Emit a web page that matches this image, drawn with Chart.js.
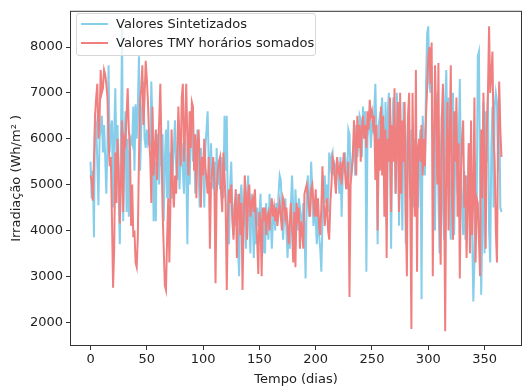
<!DOCTYPE html>
<html>
<head>
<meta charset="utf-8">
<script src="https://cdn.jsdelivr.net/npm/chart.js@4.4.1/dist/chart.umd.min.js"></script>
<style>
  html, body { margin: 0; padding: 0; background: #fff; }
  #wrap { position: relative; width: 526px; height: 387px; }
  #legend {
    position: absolute; left: 76px; top: 13px; width: 238px; height: 41px;
    border: 1px solid #d6d6d6; border-radius: 3px; background: rgba(255,255,255,0.8);
    font-family: "DejaVu Sans", sans-serif; font-size: 13px; color: #222;
  }
  .row { position: absolute; left: 0; height: 16px; line-height: 16px; white-space: nowrap; }
  .swatch { position: absolute; left: 4px; top: 7px; width: 27px; height: 2px; }
  .lbl { position: absolute; left: 39px; top: 0; }
</style>
</head>
<body>
<div id="wrap">
  <canvas id="chart" width="526" height="387"></canvas>
  <div id="legend">
    <div class="row" style="top:2px"><span class="swatch" style="background:#87CEEB"></span><span class="lbl">Valores Sintetizados</span></div>
    <div class="row" style="top:21px"><span class="swatch" style="background:#F08080"></span><span class="lbl">Valores TMY horários somados</span></div>
  </div>
</div>
<script>
// daily sums, days 0..365
const sintetizados = [
  5500, 4700, 5300, 3850, 6550, 6300, 5500, 4550, 6000, 6200,
  6500, 5700, 6300, 5600, 4800, 5800, 7600, 5700, 6200, 6400,
  4500, 6100, 7100, 5600, 6300, 4700, 3700, 6000, 8450, 4200,
  5900, 6600, 4400, 6000, 4300, 5800, 6000, 5900, 6700, 5300,
  6750, 6000, 6700, 7800, 5300, 6200, 6800, 7250, 6000, 5800,
  6200, 5900, 6000, 5800, 7250, 6300, 4200, 5500, 4200, 6100,
  5800, 5000, 6200, 5400, 6100, 4200, 5500, 6200, 4700, 6400,
  4600, 5700, 4700, 5300, 5800, 6400, 5400, 5100, 6400, 4900,
  5600, 5900, 5300, 4800, 6000, 5400, 3700, 5700, 5000, 6100,
  6500, 5500, 5900, 4800, 5600, 6200, 5200, 4500, 5800, 5300,
  5600, 4500, 5800, 6200, 6600, 5500, 5100, 5900, 5200, 4900,
  5500, 4100, 5800, 5000, 5400, 4900, 5600, 5200, 4700, 6500,
  5300, 6500, 4200, 3700, 5000, 5500, 4400, 3900, 4600, 4100,
  4800, 3600, 3000, 4700, 5000, 4400, 4100, 4900, 3600, 4500,
  5200, 4200, 3500, 4800, 4300, 3400, 4600, 3700, 4500, 4100,
  4300, 4800, 3800, 3500, 4500, 3500, 4600, 4100, 3800, 4800,
  4300, 3600, 4200, 4500, 4000, 4600, 4200, 4800, 5200, 5100,
  4400, 3800, 4300, 4700, 4000, 3400, 4100, 3600, 4600, 5200,
  4500, 3500, 4900, 4300, 4000, 4700, 4500, 4300, 3900, 4600,
  4100, 2950, 4700, 5200, 4300, 4700, 5500, 4800, 4100, 4500,
  4200, 3700, 4600, 3900, 3600, 3100, 4200, 4800, 5200, 4600,
  5000, 4400, 5700, 5400, 5600, 5700, 5200, 5400, 5300, 5600,
  5200, 4800, 5600, 4300, 5200, 5500, 5700, 5300, 4900, 6200,
  6100, 5100, 5300, 5700, 6000, 5200, 6300, 5600, 5900, 6500,
  6400, 5600, 6700, 6200, 6600, 3100, 6000, 6300, 6500, 5800,
  6300, 6200, 6600, 7200, 6000, 3700, 6300, 6500, 6400, 6900,
  6200, 4900, 6800, 4100, 6600, 7000, 5400, 3600, 6300, 6900,
  6100, 4800, 7000, 6500, 4100, 6800, 5200, 4000, 6800, 6300,
  3700, 5800, 6500, 5300, 4700, 6200, 5900, 4500, 6000, 5200,
  5600, 4500, 5800, 6200, 2500, 6500, 6000, 5200, 7200, 8300,
  8450, 7200, 7000, 7600, 6000, 6300, 4000, 6500, 7000, 4800,
  3500, 5500, 6500, 4600, 3800, 6800, 7500, 5800, 6900, 4400,
  3800, 5900, 7000, 3900, 5800, 6600, 4800, 5800, 7300, 5400,
  4600, 3900, 5300, 3800, 5200, 4700, 5900, 5400, 5100, 3900,
  2450, 3300, 5500, 4600, 7800, 7900, 5000, 2600, 4000, 6800,
  3500, 6600, 5500, 7000, 4000, 3300, 5800, 6700, 4500, 6700,
  7000, 6800, 5300, 6900, 4500, 4400
];

const tmySomados = [
  5200, 5100, 4650, 5500, 6500, 6900, 7200, 6000, 6400, 7500,
  7000, 7100, 7500, 7400, 7200, 6900, 6000, 5400, 5600, 4300,
  2750, 3600, 5700, 4600, 6000, 5300, 4150, 5000, 6400, 4400,
  6000, 5900, 6500, 7100, 6200, 5800, 4100, 5000, 3850, 4000,
  3300, 3200, 3850, 5600, 6800, 7100, 7600, 6300, 6900, 7700,
  7300, 6800, 6000, 5600, 4600, 6700, 5200, 5800, 6200, 5100,
  5800, 6400, 7200, 5800, 4400, 3600, 2800, 2700, 3800, 4700,
  3300, 4600, 6200, 5000, 4500, 5200, 4800, 5600, 6700, 6000,
  5400, 6900, 7200, 5500, 6200, 7200, 6000, 5200, 6600, 5800,
  6800, 6700, 5300, 6100, 4700, 5900, 6200, 5500, 4500, 5600,
  5200, 6000, 5400, 5100, 4800, 5600, 3600, 5000, 5300, 5600,
  5000, 2850, 4800, 5300, 5500, 5600, 4800, 4400, 5700, 5200,
  4600, 2700, 4300, 4900, 4600, 5000, 4200, 3800, 4500, 4900,
  3400, 4500, 4800, 3900, 4600, 2700, 4200, 5200, 4800, 3800,
  4800, 5000, 4300, 4600, 4700, 4400, 4900, 4200, 3800, 3050,
  4400, 4200, 3000, 4500, 4200, 4500, 3900, 4300, 4400, 4000,
  4400, 4700, 4300, 4500, 4200, 4500, 4100, 4400, 4600, 4300,
  4000, 4700, 4600, 4300, 4500, 4100, 3700, 4200, 4600, 4000,
  3300, 4400, 3200, 4600, 4300, 4500, 3600, 4200, 4000, 3600,
  4800, 4900, 5000, 4800, 4500, 4300, 4900, 5000, 4600, 4300,
  4900, 4300, 4700, 4100, 3900, 4500, 5400, 4700, 4100, 4400,
  4700, 4000, 3800, 4600, 5000, 5600, 5500, 5100, 4800, 5600,
  5300, 5200, 5500, 5000, 5400, 5700, 5300, 4900, 5100, 5500,
  2550, 5000, 5300, 5600, 6400, 6000, 5200, 6500, 5800, 6300,
  5500, 6200, 6500, 6000, 6300, 5800, 6600, 6200, 6850, 6500,
  6600, 6300, 6500, 5100, 6300, 4000, 6000, 5300, 6700, 5200,
  6500, 4300, 6200, 3400, 6000, 5500, 6900, 4400, 6300, 5500,
  7100, 4800, 6000, 6800, 4400, 7000, 4800, 6400, 5500, 6800,
  4400, 3000, 6500, 7000, 4600, 1850, 7000, 5200, 4300, 7500,
  3100, 5800, 6000, 5500, 6300, 5200, 6000, 5400, 6500, 7100,
  7800, 8000, 7200, 8100, 3000, 5800, 7600, 6500, 5000, 7650,
  4400, 3250, 6400, 7200, 5200, 1800, 5500, 6800, 4000, 6000,
  7600, 4800, 3800, 6600, 5500, 6900, 4300, 5900, 2950, 5200,
  6000, 6400, 4500, 5200, 3400, 4600, 5900, 3500, 6400, 3900,
  4700, 6900, 3300, 4700, 4600, 3800, 3000, 6200, 4700, 7000,
  5500, 3600, 6200, 7000, 8450, 7000, 7400, 7900, 6000, 5500,
  4000, 3300, 6000, 7250, 6200, 5600
];

const xTicks = [0, 50, 100, 150, 200, 250, 300, 350];
const yTicks = [2000, 3000, 4000, 5000, 6000, 7000, 8000];

const toPoints = arr => arr.map((v, i) => ({ x: i, y: v }));

const frame = {
    id: 'frame',
    afterDatasetsDraw(chart) {
        const { ctx, chartArea: a } = chart;
        ctx.save();
        ctx.strokeStyle = '#333';
        ctx.lineWidth = 1;
        ctx.strokeRect(a.left + 0.5, a.top + 0.5, a.right - a.left - 1, a.bottom - a.top - 1);
        ctx.restore();
    }
};

const tickStyle = { color: '#222', font: { family: 'DejaVu Sans', size: 13 }, callback: v => String(v) };

new Chart(document.getElementById('chart').getContext('2d'), {
    type: 'line',
    data: {
        datasets: [
            {
                label: 'Valores Sintetizados',
                data: toPoints(sintetizados),
                borderColor: '#87CEEB',
                borderWidth: 2,
                pointRadius: 0,
                tension: 0,
                order: 1
            },
            {
                label: 'Valores TMY horários somados',
                data: toPoints(tmySomados),
                borderColor: '#F08080',
                borderWidth: 2,
                pointRadius: 0,
                tension: 0,
                order: 0
            }
        ]
    },
    options: {
        responsive: false,
        animation: false,
        layout: { padding: { left: 9, right: 4, top: 6, bottom: 0 } },
        plugins: { legend: { display: false }, tooltip: { enabled: false } },
        scales: {
            x: {
                type: 'linear', min: -18.25, max: 383.25,
                afterBuildTicks: s => { s.ticks = xTicks.map(v => ({ value: v })); },
                afterFit: s => { s.height = 41; },
                ticks: { ...tickStyle, padding: 2, maxRotation: 0 },
                grid: { display: true, drawOnChartArea: false, drawTicks: true, tickLength: 4, color: '#333' },
                border: { display: false },
                title: { display: true, text: 'Tempo (dias)', color: '#222', font: { family: 'DejaVu Sans', size: 13 }, padding: { top: 0, bottom: 0 } }
            },
            y: {
                type: 'linear', min: 1480, max: 8790,
                afterBuildTicks: s => { s.ticks = yTicks.map(v => ({ value: v })); },
                afterFit: s => { s.width = 61; },
                ticks: { ...tickStyle, padding: 3 },
                grid: { display: true, drawOnChartArea: false, drawTicks: true, tickLength: 4, color: '#333' },
                border: { display: false },
                title: { display: true, text: 'Irradiação (Wh/m² )', color: '#222', font: { family: 'DejaVu Sans', size: 13 }, padding: { top: 0, bottom: 2 } }
            }
        }
    },
    plugins: [frame]
});
</script>
</body>
</html>
